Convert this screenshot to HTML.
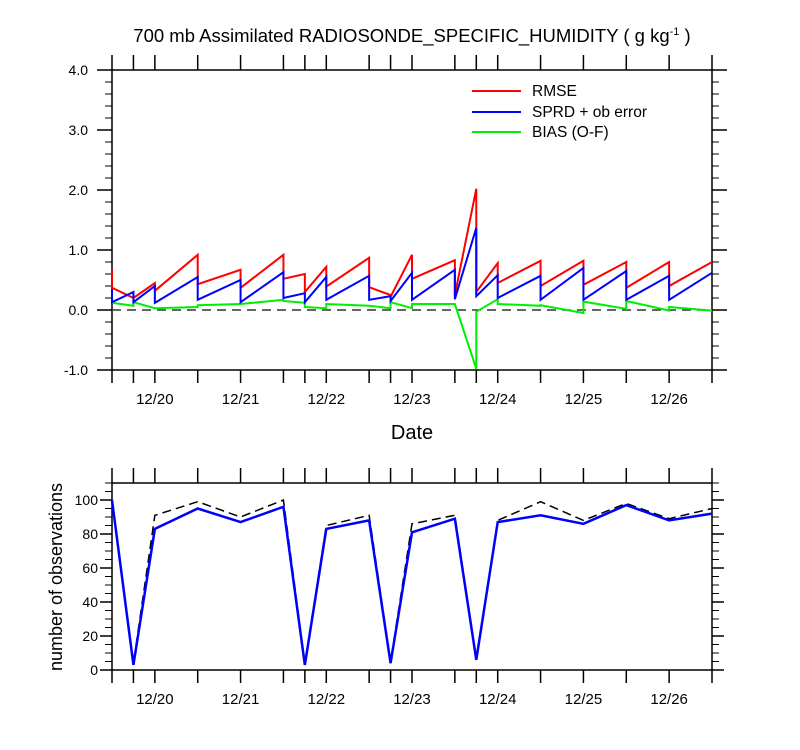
<!DOCTYPE html>
<html><head><meta charset="utf-8"><style>
body{margin:0;background:#fff;}
svg{display:block;font-family:"Liberation Sans",Arial,sans-serif;}
</style></head><body>
<svg id="c" width="800" height="750" xmlns="http://www.w3.org/2000/svg"></svg>
<script>
const times=[0,1,2,4,6,8,9,10,12,13,14,16,17,18,20,22,24,26,28];
const rmseHi=[0.67,0.2,0.45,0.92,0.67,0.92,0.6,0.72,0.87,0.25,0.92,0.83,2.02,0.78,0.82,0.82,0.8,0.8,0.8];
const rmseLo=[0.37,0.2,0.32,0.43,0.37,0.52,0.3,0.39,0.38,0.22,0.52,0.25,0.3,0.45,0.4,0.42,0.37,0.4,0.8];
const sprdHi=[0.35,0.3,0.4,0.55,0.5,0.63,0.28,0.55,0.57,0.23,0.62,0.67,1.37,0.58,0.57,0.7,0.65,0.57,0.62];
const sprdLo=[0.13,0.13,0.12,0.17,0.13,0.2,0.13,0.17,0.17,0.15,0.17,0.18,0.23,0.2,0.17,0.17,0.17,0.17,0.62];
const biasHi=[0.12,0.07,0.03,0.05,0.1,0.17,0.12,0.03,0.07,0.03,0.03,0.1,-0.98,0.18,0.07,-0.05,0.02,-0.01,-0.01];
const biasLo=[0.12,0.13,0.03,0.08,0.1,0.15,0.05,0.1,0.07,0.13,0.1,0.1,-0.03,0.1,0.08,0.14,0.15,0.05,-0.01];
const obsUsed=[100,3,83,95,87,96,3,83,88,4,81,89,6,87,91,86,97,88,92];
const obsTotal=[100,4,91,99,90,100,4,85,91,5,86,91,7,88,99,88,98,89,95];
const dateLabels=["12/20","12/21","12/22","12/23","12/24","12/25","12/26"];
const dateTimes=[2,6,10,14,18,22,26];
const yTicksTop=[-1,0,1,2,3,4];
const yTicksBot=[0,20,40,60,80,100];

const NS="http://www.w3.org/2000/svg";
const svg=document.getElementById('c');
function el(tag,attrs,parent){const e=document.createElementNS(NS,tag);for(const k in attrs)e.setAttribute(k,attrs[k]);(parent||svg).appendChild(e);return e;}
const X0=112,X1=712;
const xs=t=>X0+(X1-X0)*t/28;
const yTop=v=>310-60*v;
const yBot=v=>670-(670-483)*v/110;

let t=el('text',{x:412,y:42,'text-anchor':'middle','font-size':18.5,fill:'#000'});

t.innerHTML='700 mb Assimilated RADIOSONDE_SPECIFIC_HUMIDITY ( g kg<tspan dy="-7" font-size="11">-1</tspan><tspan dy="7"> )</tspan>';

function frame(top,bottom,name,yfn,ticks,minorStep,minV,maxV,fmt,labOff,tickLen,labEnd){
  const g=el('g',{});
  
  
  el('rect',{x:X0,y:top,width:X1-X0,height:bottom-top,fill:'none',stroke:'#000','stroke-width':1.5},g);
  times.forEach(tt=>{const x=xs(tt);
    el('line',{x1:x,x2:x,y1:top,y2:top-15,stroke:'#000','stroke-width':1.5},g);
    el('line',{x1:x,x2:x,y1:bottom,y2:bottom+13,stroke:'#000','stroke-width':1.5},g);});
  dateTimes.forEach((tt,i)=>{const tx=el('text',{x:xs(tt),y:bottom+labOff,'text-anchor':'middle','font-size':15},g);
    tx.textContent=dateLabels[i];});
  for(let v=minV;v<=maxV+1e-9;v+=minorStep){const y=yfn(v);
    el('line',{x1:X0,x2:X0-7,y1:y,y2:y,stroke:'#000','stroke-width':1},g);
    el('line',{x1:X1,x2:X1+7,y1:y,y2:y,stroke:'#000','stroke-width':1},g);}
  ticks.forEach(v=>{const y=yfn(v);
    el('line',{x1:X0,x2:X0-tickLen,y1:y,y2:y,stroke:'#000','stroke-width':1.5},g);
    el('line',{x1:X1,x2:X1+tickLen,y1:y,y2:y,stroke:'#000','stroke-width':1.5},g);
    const tx=el('text',{x:labEnd,y:y+5,'text-anchor':'end','font-size':14},g);
    tx.textContent=fmt(v);});
}
frame(70,370,'top-plot-frame',yTop,yTicksTop,0.2,-1,4,v=>v.toFixed(1),34,15,88);
frame(483,670,'bottom-plot-frame',yBot,yTicksBot,5,0,110,v=>String(v),34,12,98);

let z=el('line',{x1:X0,x2:X1,y1:yTop(0),y2:yTop(0),stroke:'#333','stroke-width':1.5,'stroke-dasharray':'9,6'});


function saw(hi,lo,color,name){
  let d='';
  times.forEach((tt,i)=>{const x=xs(tt);
    d+=(i===0?'M':'L')+x+','+yTop(hi[i])+' L'+x+','+yTop(lo[i])+' ';});
  const p=el('path',{d:d,fill:'none',stroke:color,'stroke-width':2,'stroke-linejoin':'miter'});
  
}
saw(biasHi,biasLo,'#00ee00','bias-line');
saw(rmseHi,rmseLo,'#ff0000','rmse-line');
saw(sprdHi,sprdLo,'#0000ff','sprd-line');

const leg=[['RMSE','#ff0000',91],['SPRD + ob error','#0000ff',112],['BIAS (O-F)','#00ee00',132]];
leg.forEach(l=>{
  const ln=el('line',{x1:472,x2:521,y1:l[2],y2:l[2],stroke:l[1],'stroke-width':2});
  
  const tx=el('text',{x:532,y:l[2]+5,'font-size':15.5});
  tx.textContent=l[0];
});

let dl=el('text',{x:412,y:439,'text-anchor':'middle','font-size':20});
dl.textContent='Date';

function line(vals,color,dash,name,w){
  const pts=times.map((tt,i)=>xs(tt)+','+yBot(vals[i])).join(' ');
  const p=el('polyline',{points:pts,fill:'none',stroke:color,'stroke-width':w});
  if(dash)p.setAttribute('stroke-dasharray',dash);
  
}
line(obsTotal,'#000','9,5','obs-total-line',1.5);
line(obsUsed,'#0000ff',null,'obs-used-line',2.5);

let yl=el('text',{x:0,y:0,'text-anchor':'middle','font-size':18,transform:'translate(62,577) rotate(-90)'});
yl.textContent='number of observations';
</script>
</body></html>
